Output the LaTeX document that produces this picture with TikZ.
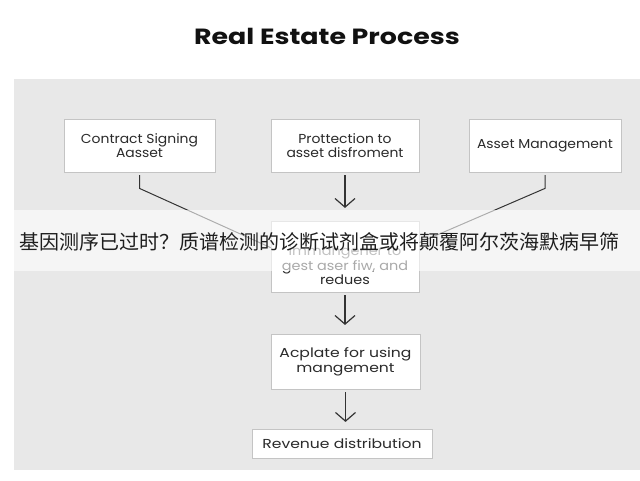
\documentclass[tikz,border=0pt]{standalone}
\usepackage{fontspec}
\setmainfont{Poppins}
\newfontfamily\titlef{Poppins}[FakeStretch=1.22]
\newfontfamily\boxA{Poppins}[FakeStretch=1.07]
\newfontfamily\boxM{Poppins}[FakeStretch=1.11]
\newfontfamily\boxB{Poppins}[FakeStretch=1.2]
\newfontfamily\cjk{Noto Sans CJK SC}
\usetikzlibrary{arrows.meta,shadows,calc}
\definecolor{panel}{HTML}{E8E8E8}
\definecolor{boxline}{HTML}{C4C4C4}
\definecolor{textc}{HTML}{2A2A2A}
\definecolor{linec}{HTML}{333333}
\definecolor{titlec}{HTML}{111111}
\definecolor{cjkc}{HTML}{1E1E1E}
\tikzset{
  stepbox/.style={draw=boxline, fill=white, line width=0.6pt, inner sep=0pt,
    align=center, text=textc, font=\boxA\fontsize{9.75pt}{10.5pt}\selectfont,
    drop shadow={shadow xshift=0.6pt, shadow yshift=-0.9pt, opacity=0.18, fill=black}},
  lowbox/.style={stepbox, font=\boxB\fontsize{9.75pt}{11.25pt}\selectfont},
  boxtext/.style={align=center, text=textc, inner sep=0pt,
    font=\boxM\fontsize{9.75pt}{10.9pt}\selectfont},
  arr/.style={draw=linec, line width=0.9pt, -{Straight Barb[length=6.5pt,width=15pt]}},
  conn/.style={draw=linec, line width=0.75pt}
}
\begin{document}
\begin{tikzpicture}[x=0.75pt,y=-0.75pt]
\useasboundingbox (0,0) rectangle (640,480);
\fill[white] (0,0) rectangle (640,480);
\fill[panel] (14,79) rectangle (640,470);

\node[font=\titlef\bfseries\fontsize{16.5pt}{18pt}\selectfont, text=titlec, anchor=base] (title) at (327,44.5) {Real Estate Process};

\node[stepbox, minimum width=113.25pt, minimum height=39.75pt] (b1) at (139.5,145.5) {Contract Signing\\Aasset};
\node[stepbox, minimum width=111pt, minimum height=39.75pt] (b2) at (345,145.5) {Prottection to\\asset disfroment};
\node[stepbox, minimum width=114pt, minimum height=39.75pt] (b3) at (545,145.5) {Asset Management};
\node[stepbox, minimum width=111pt, minimum height=53.25pt] (mid) at (345,256.5) {};
\node[boxtext] (midtext) at (345,265.5) {\textcolor[HTML]{666666}{immangener to}\\gest aser fiw, and\\redues};
\node[lowbox, minimum width=111.75pt, minimum height=41.25pt] (b4) at (345.5,361.5) {Acplate for using\\mangement};
\node[lowbox, minimum width=135pt, minimum height=21.75pt] (b5) at (342,443.5) {Revenue distribution};

\draw[conn, shorten <=2pt] (b1.south) -- ++(0,16) -- ($(mid.north west)+(0,27)$);
\draw[conn, shorten <=2pt] (b3.south) -- ++(0,16) -- ($(mid.north east)+(0,22)$);
\draw[arr, shorten <=2pt, shorten >=9.5pt] (b2.south) -- (mid.north);
\draw[arr, shorten <=2pt, shorten >=6.5pt] (mid.south) -- (mid.south |- b4.north);
\draw[arr, shorten <=2pt, shorten >=5pt] (b4.south) -- (b4.south |- b5.north);

\fill[white, opacity=0.6] (0,210) rectangle (640,271);
\node[font={\cjk\fontsize{15pt}{18pt}\selectfont}, text=cjkc, inner sep=0pt] (banner) at (320,242) {基因测序已过时？质谱检测的诊断试剂盒或将颠覆阿尔茨海默病早筛};
\end{tikzpicture}
\end{document}
